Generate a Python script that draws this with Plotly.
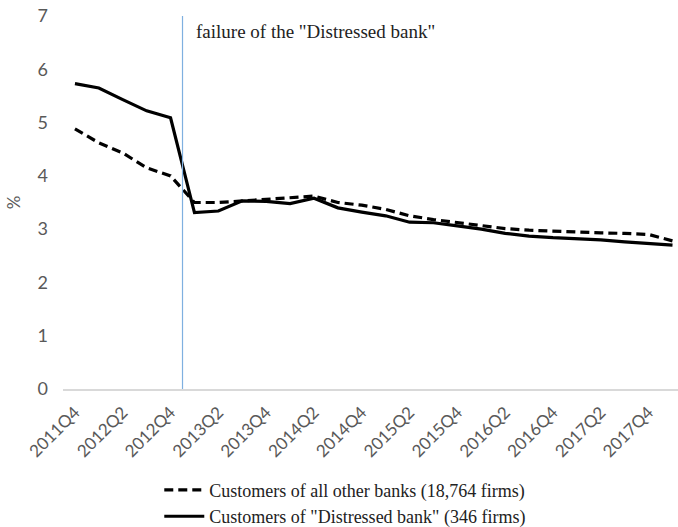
import plotly.graph_objects as go

# Quarterly periods, 2011Q4 .. 2018Q1
quarters = [
    "2011Q4", "2012Q1", "2012Q2", "2012Q3", "2012Q4",
    "2013Q1", "2013Q2", "2013Q3", "2013Q4",
    "2014Q1", "2014Q2", "2014Q3", "2014Q4",
    "2015Q1", "2015Q2", "2015Q3", "2015Q4",
    "2016Q1", "2016Q2", "2016Q3", "2016Q4",
    "2017Q1", "2017Q2", "2017Q3", "2017Q4",
    "2018Q1",
]

# Rate (%) for customers of all other banks
other_banks = [
    4.88, 4.62, 4.43, 4.15, 4.00,
    3.50, 3.50, 3.53, 3.56,
    3.60, 3.62, 3.50, 3.45,
    3.37, 3.25, 3.18, 3.12,
    3.06, 3.01, 2.98, 2.96,
    2.95, 2.93, 2.92, 2.90,
    2.78,
]

# Rate (%) for customers of the "Distressed bank"
distressed_bank = [
    5.73, 5.65, 5.43, 5.22, 5.09,
    3.31, 3.34, 3.53, 3.52,
    3.48, 3.58, 3.40, 3.32,
    3.25, 3.13, 3.12, 3.06,
    3.00, 2.92, 2.87, 2.84,
    2.82, 2.80, 2.76, 2.73,
    2.70,
]

label_every = 2
failure_after = "2012Q4"
failure_text = 'failure of the "Distressed bank"'

idx = list(range(len(quarters)))
tick_vals = idx[::label_every]
tick_text = quarters[::label_every]
failure_x = quarters.index(failure_after) + 0.5

fig = go.Figure()
fig.add_trace(go.Scatter(
    x=idx, y=other_banks, mode="lines",
    name="Customers of all other banks (18,764 firms)",
    line=dict(color="black", width=3.2, dash="9px,5px"),
))
fig.add_trace(go.Scatter(
    x=idx, y=distressed_bank, mode="lines",
    name='Customers of "Distressed bank" (346 firms)',
    line=dict(color="black", width=3.2),
))

fig.add_shape(
    type="line", xref="x", yref="y",
    x0=failure_x, x1=failure_x, y0=0, y1=7,
    line=dict(color="#7fb0e0", width=1.2),
)
fig.add_annotation(
    x=failure_x, y=6.7, xref="x", yref="y",
    text=failure_text, showarrow=False,
    xanchor="left", yanchor="middle", xshift=11,
    font=dict(family="Liberation Serif", size=19, color="#222222"),
)

fig.update_layout(
    width=678, height=527,
    margin=dict(l=63, r=0, t=16, b=138, autoexpand=False),
    paper_bgcolor="white", plot_bgcolor="white",
    showlegend=True,
    legend=dict(
        x=0.459, y=-0.306, xanchor="center", yanchor="middle",
        orientation="v",
        font=dict(family="Liberation Serif", size=18, color="#222222"),
        tracegroupgap=0, itemwidth=40,
    ),
    font=dict(family="Lato", color="#595959"),
)
fig.update_xaxes(
    range=[-0.5, 25.23],
    tickmode="array", tickvals=tick_vals, ticktext=tick_text,
    tickangle=-45, tickfont=dict(size=17, color="#595959"),
    showgrid=False, zeroline=False,
    showline=True, linecolor="#d9d9d9", linewidth=1.5,
    ticks="", ticklabelstandoff=5,
)
fig.update_yaxes(
    range=[0, 7], dtick=1,
    tickfont=dict(size=18, color="#595959"),
    showgrid=False, zeroline=False, showline=False,
    ticks="", ticklabelstandoff=14,
    title=dict(text="%", font=dict(size=17, color="#595959"), standoff=12),
)

fig.write_html("out.html")
